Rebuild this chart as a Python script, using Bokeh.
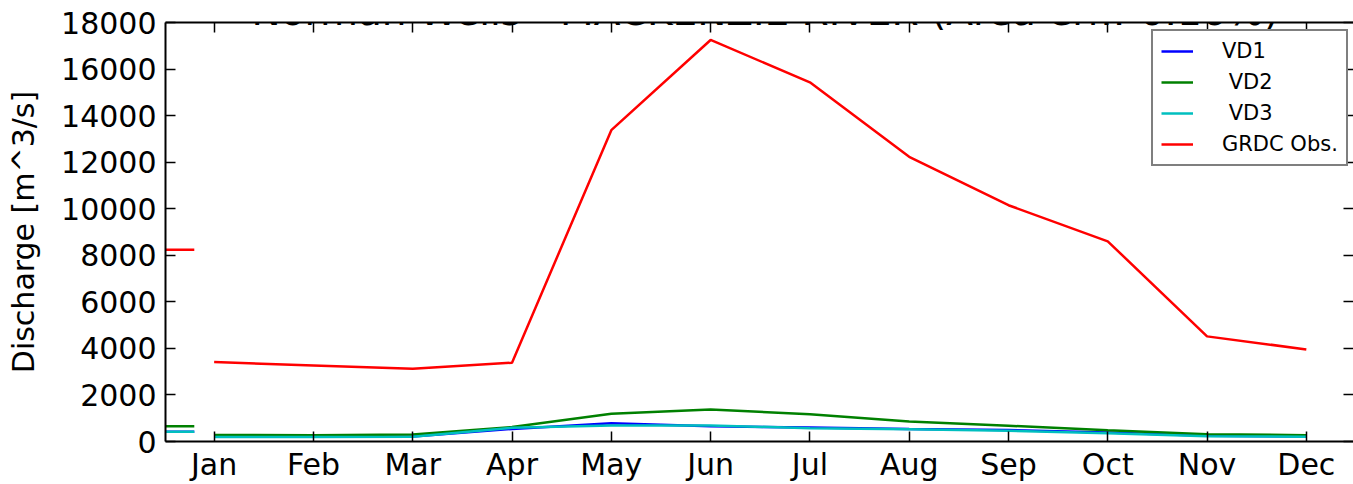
from bokeh.plotting import figure
from bokeh.models import LinearAxis, FixedTicker, Range1d, Legend, LegendItem, Label
from bokeh.embed import file_html
from bokeh.resources import INLINE

months = ["Jan", "Feb", "Mar", "Apr", "May", "Jun", "Jul", "Aug", "Sep", "Oct", "Nov", "Dec"]
month_idx = [1, 2, 3, 4, 5, 6, 7, 8, 9, 10, 11, 12]
vd1 = [200, 200, 210, 540, 780, 650, 600, 540, 490, 390, 245, 210]
vd2 = [280, 270, 300, 620, 1190, 1376, 1170, 860, 675, 486, 315, 271]
vd3 = [190, 190, 200, 590, 690, 690, 573, 530, 460, 357, 228, 200]
grdc = [3410, 3270, 3125, 3385, 13376, 17250, 15430, 12230, 10150, 8600, 4516, 3957]
mean_vd1 = 420
mean_vd2 = 650
mean_vd3 = 415
mean_grdc = 8240
mean_x = [0.3, 0.8]
y_ticks = [0, 2000, 4000, 6000, 8000, 10000, 12000, 14000, 16000, 18000]
title_text = "Norman Wells - MACKENZIE RIVER (Area err.:-0.16%)"
series_labels = ["VD1", "\u00a0VD2", "\u00a0VD3", "GRDC Obs."]

FONT = "DejaVu Sans"
colors = ["#0000ff", "#008000", "#00bfbf", "#ff0000"]

p = figure(width=1353, height=484, output_backend="svg", toolbar_location=None,
           x_range=Range1d(0.51, 12.475), y_range=Range1d(0, 18000),
           min_border_left=165, min_border_top=22, min_border_bottom=43, min_border_right=0)
p.outline_line_color = None
p.xgrid.visible = False
p.ygrid.visible = False
p.background_fill_color = "white"
p.border_fill_color = "white"

def style_axis(ax, show_labels=True):
    ax.axis_line_width = 2
    ax.axis_line_color = "black"
    ax.major_tick_in = 10
    ax.major_tick_out = 0
    ax.major_tick_line_width = 1.5
    ax.major_tick_line_color = "black"
    ax.minor_tick_line_color = None
    ax.major_label_text_font = FONT
    ax.major_label_text_font_size = "30px" if show_labels else "1px"
    ax.major_label_text_color = "black"

xa = p.xaxis[0]
style_axis(xa)
xa.ticker = FixedTicker(ticks=month_idx)
xa.major_label_overrides = {m: lab for m, lab in zip(month_idx, months)}
xa.major_label_standoff = 5

ya = p.yaxis[0]
style_axis(ya)
ya.ticker = FixedTicker(ticks=y_ticks)
ya.major_label_standoff = 9
ya.axis_label = "Discharge [m^3/s]"
ya.axis_label_text_font = FONT
ya.axis_label_text_font_size = "30px"
ya.axis_label_text_font_style = "normal"
ya.axis_label_text_color = "black"
ya.axis_label_standoff = 17

top = LinearAxis(ticker=FixedTicker(ticks=month_idx))
style_axis(top, False)
top.major_label_standoff = 0
top.major_label_overrides = {m: "" for m in month_idx}
p.add_layout(top, "above")

right = LinearAxis(ticker=FixedTicker(ticks=y_ticks))
style_axis(right, False)
right.axis_line_color = None
right.major_label_standoff = 0
right.major_label_overrides = {t: "" for t in y_ticks}
p.add_layout(right, "right")

renderers = []
for ys, m, c in zip([vd1, vd2, vd3, grdc], [mean_vd1, mean_vd2, mean_vd3, mean_grdc], colors):
    r = p.line(month_idx, ys, line_color=c, line_width=2.5)
    p.line(mean_x, [m, m], line_color=c, line_width=2.5)
    renderers.append(r)

legend = Legend(items=[LegendItem(label=lab, renderers=[r]) for lab, r in zip(series_labels, renderers)],
                location=(986, 275), margin=0, padding=8, spacing=7,
                glyph_width=32, glyph_height=24, label_height=24, label_standoff=29,
                label_text_font=FONT, label_text_font_size="21px", label_text_color="black",
                border_line_color="black", border_line_width=2, background_fill_alpha=1.0)
p.add_layout(legend)

title = Label(x=6.55, y=18473, text=title_text, text_align="center", text_baseline="alphabetic",
              text_font=FONT, text_font_size="39px", text_color="black")
p.add_layout(title)

open("out.html", "w").write(file_html(p, INLINE))
